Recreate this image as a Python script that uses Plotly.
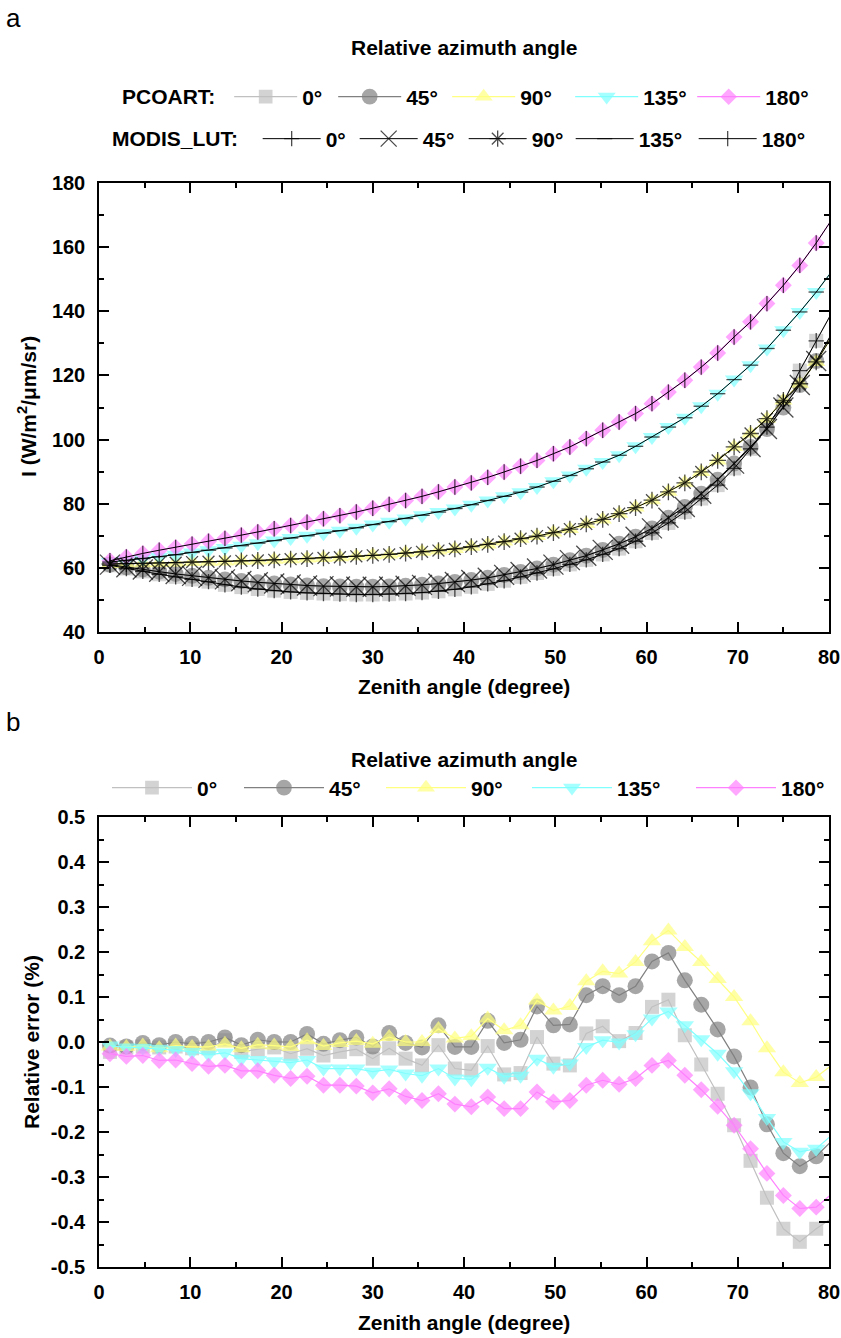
import plotly.graph_objects as go

# Zenith angles (degree); the last sample lies just past the 80° axis limit
zenith = [1.2, 3.0, 4.8, 6.6, 8.4, 10.2, 12.0, 13.8, 15.6, 17.4, 19.2, 21.0, 22.8, 24.6, 26.4,
          28.2, 30.0, 31.8, 33.6, 35.4, 37.2, 39.0, 40.8, 42.6, 44.4, 46.2, 48.0, 49.8, 51.6,
          53.4, 55.2, 57.0, 58.8, 60.6, 62.4, 64.2, 66.0, 67.8, 69.6, 71.4, 73.2, 75.0, 76.8,
          78.6, 80.4]

azimuth_labels = ["0°", "45°", "90°", "135°", "180°"]

# PCOART radiance I (W/m2/um/sr) per relative azimuth
pcoart_0 = [60.8, 59.8, 58.9, 58.0, 57.2, 56.4, 55.7, 54.7, 54.0, 53.4, 52.9, 52.5, 52.2, 52.0, 51.8,
            51.7, 51.7, 51.8, 52.0, 52.3, 52.7, 53.3, 54.1, 55.0, 56.0, 57.2, 58.4, 59.7, 61.1,
            62.5, 64.2, 66.0, 68.3, 70.9, 74.0, 77.4, 81.6, 85.8, 91.0, 97.1, 103.9, 111.7, 121.5,
            130.8, 140.0]
pcoart_45 = [61.0, 60.2, 59.5, 58.8, 58.1, 57.5, 56.9, 56.4, 55.9, 55.5, 55.1, 54.8, 54.5, 54.3, 54.2,
             54.1, 54.1, 54.2, 54.4, 54.7, 55.1, 55.6, 56.2, 56.9, 57.8, 58.7, 59.8, 61.0, 62.4,
             63.8, 65.6, 67.5, 69.7, 72.3, 75.6, 79.0, 83.1, 87.5, 92.5, 97.7, 103.3, 110.0, 117.0,
             124.5, 133.5]
pcoart_90 = [61.2, 61.3, 61.4, 61.5, 61.6, 61.8, 61.9, 62.0, 62.2, 62.3, 62.5, 62.7, 62.9, 63.1, 63.3,
             63.6, 63.9, 64.2, 64.6, 65.0, 65.4, 65.9, 66.6, 67.3, 68.2, 69.1, 69.9, 71.0, 72.1,
             73.7, 75.1, 76.9, 78.8, 81.1, 83.7, 86.5, 89.9, 93.5, 97.7, 101.9, 106.5, 112.2, 117.4,
             124.2, 132.5]
pcoart_135 = [61.8, 62.3, 62.9, 63.5, 64.1, 64.8, 65.5, 66.2, 66.9, 67.7, 68.5, 69.3, 70.0, 70.8, 71.6,
              72.5, 73.5, 74.4, 75.4, 76.4, 77.4, 78.5, 79.7, 81.0, 82.3, 83.6, 85.2, 87.0, 88.8,
              90.9, 93.0, 95.1, 97.9, 100.8, 103.9, 106.8, 110.4, 114.3, 118.7, 123.2, 128.4, 134.1,
              139.8, 146.0, 152.8]
pcoart_180 = [62.2, 63.4, 64.5, 65.5, 66.4, 67.4, 68.3, 69.2, 70.2, 71.2, 72.2, 73.2, 74.2, 75.3, 76.3,
              77.4, 78.6, 79.8, 81.0, 82.3, 83.7, 85.2, 86.5, 88.2, 89.9, 91.7, 93.5, 95.6, 97.7,
              100.3, 102.9, 105.5, 108.1, 111.2, 114.8, 118.5, 122.6, 127.0, 132.0, 136.7, 142.4,
              148.1, 154.3, 161.3, 169.0]

# MODIS look-up-table radiance I (W/m2/um/sr) per relative azimuth
modis_0 = [60.8, 59.8, 58.9, 58.0, 57.2, 56.4, 55.7, 54.7, 54.0, 53.4, 52.9, 52.5, 52.2, 52.0, 51.8,
           51.7, 51.7, 51.8, 52.0, 52.3, 52.7, 53.3, 54.1, 55.0, 56.0, 57.2, 58.4, 59.7, 61.1,
           62.5, 64.2, 66.0, 68.3, 70.9, 74.0, 77.4, 81.6, 85.8, 91.0, 97.1, 103.9, 111.7, 121.5,
           130.8, 140.0]
modis_45 = [61.0, 60.2, 59.5, 58.8, 58.1, 57.5, 56.9, 56.4, 55.9, 55.5, 55.1, 54.8, 54.5, 54.3, 54.2,
            54.1, 54.1, 54.2, 54.4, 54.7, 55.1, 55.6, 56.2, 56.9, 57.8, 58.7, 59.8, 61.0, 62.4,
            63.8, 65.6, 67.5, 69.7, 72.3, 75.6, 79.0, 83.1, 87.5, 92.5, 97.7, 103.3, 110.0, 117.0,
            124.5, 133.5]
modis_90 = [61.2, 61.3, 61.4, 61.5, 61.6, 61.8, 61.9, 62.0, 62.2, 62.3, 62.5, 62.7, 62.9, 63.1, 63.3,
            63.6, 63.9, 64.2, 64.6, 65.0, 65.4, 65.9, 66.6, 67.3, 68.2, 69.1, 69.9, 71.0, 72.1,
            73.7, 75.1, 76.9, 78.8, 81.1, 83.7, 86.5, 89.9, 93.5, 97.7, 101.9, 106.5, 112.2, 117.4,
            124.2, 132.5]
modis_135 = [61.8, 62.3, 62.9, 63.5, 64.1, 64.8, 65.5, 66.2, 66.9, 67.7, 68.5, 69.3, 70.0, 70.8, 71.6,
             72.5, 73.5, 74.4, 75.4, 76.4, 77.4, 78.5, 79.7, 81.0, 82.3, 83.6, 85.2, 87.0, 88.8,
             90.9, 93.0, 95.1, 97.9, 100.8, 103.9, 106.8, 110.4, 114.3, 118.7, 123.2, 128.4, 134.1,
             139.8, 146.0, 152.8]
modis_180 = [62.2, 63.4, 64.5, 65.5, 66.4, 67.4, 68.3, 69.2, 70.2, 71.2, 72.2, 73.2, 74.2, 75.3, 76.3,
             77.4, 78.6, 79.8, 81.0, 82.3, 83.7, 85.2, 86.5, 88.2, 89.9, 91.7, 93.5, 95.6, 97.7,
             100.3, 102.9, 105.5, 108.1, 111.2, 114.8, 118.5, 122.6, 127.0, 132.0, 136.7, 142.4,
             148.1, 154.3, 161.3, 169.0]

# Relative error (%) of PCOART against MODIS_LUT
err_0 = [-0.022, -0.012, -0.010, -0.012, -0.010, -0.014, -0.014, 0.004, -0.022, -0.016, -0.012,
         -0.026, -0.015, -0.030, -0.022, -0.016, -0.037, -0.014, -0.037, -0.052, -0.007, -0.059,
         -0.063, -0.009, -0.072, -0.069, 0.011, -0.048, -0.052, 0.019, 0.035, 0.002, 0.020, 0.078,
         0.094, 0.015, -0.050, -0.115, -0.185, -0.264, -0.346, -0.415, -0.444, -0.415, -0.390]
err_45 = [-0.008, -0.010, -0.002, -0.007, 0.000, -0.004, 0.000, 0.010, -0.007, 0.005, 0.000,
          0.000, 0.018, -0.004, 0.004, 0.010, -0.010, 0.020, -0.002, -0.012, 0.037, -0.011,
          -0.011, 0.047, -0.002, 0.005, 0.079, 0.037, 0.039, 0.104, 0.124, 0.104, 0.124, 0.179,
          0.198, 0.137, 0.083, 0.028, -0.032, -0.101, -0.183, -0.247, -0.276, -0.254, -0.218]
err_90 = [-0.010, -0.011, -0.008, -0.014, -0.008, -0.011, -0.011, -0.004, -0.014, -0.006, -0.008,
          -0.011, 0.004, -0.009, -0.002, 0.002, -0.004, 0.011, 0.000, 0.000, 0.029, 0.008,
          0.013, 0.052, 0.026, 0.037, 0.092, 0.070, 0.080, 0.135, 0.157, 0.152, 0.178, 0.224,
          0.248, 0.211, 0.178, 0.140, 0.100, 0.046, -0.014, -0.067, -0.091, -0.078, -0.050]
err_135 = [-0.008, -0.012, -0.013, -0.015, -0.018, -0.022, -0.028, -0.024, -0.037, -0.040, -0.043,
           -0.046, -0.040, -0.059, -0.059, -0.059, -0.066, -0.061, -0.070, -0.075, -0.059, -0.081,
           -0.083, -0.057, -0.077, -0.075, -0.037, -0.055, -0.048, -0.011, 0.004, -0.001, 0.017,
           0.052, 0.068, 0.037, 0.006, -0.026, -0.065, -0.114, -0.169, -0.222, -0.244, -0.237,
           -0.205]
err_180 = [-0.026, -0.032, -0.030, -0.041, -0.040, -0.048, -0.054, -0.052, -0.064, -0.064, -0.074,
           -0.081, -0.076, -0.096, -0.096, -0.098, -0.113, -0.104, -0.121, -0.130, -0.115, -0.138,
           -0.144, -0.122, -0.148, -0.148, -0.111, -0.133, -0.130, -0.096, -0.085, -0.094, -0.081,
           -0.052, -0.041, -0.074, -0.106, -0.143, -0.185, -0.237, -0.292, -0.341, -0.370, -0.367,
           -0.336]

# Axis tick labels
a_y_ticks = [40, 60, 80, 100, 120, 140, 160, 180]
b_y_ticks = [-0.5, -0.4, -0.3, -0.2, -0.1, 0.0, 0.1, 0.2, 0.3, 0.4, 0.5]
b_y_text = ["-0.5", "-0.4", "-0.3", "-0.2", "-0.1", "0.0", "0.1", "0.2", "0.3", "0.4", "0.5"]
x_ticks = [0, 10, 20, 30, 40, 50, 60, 70, 80]

# ---- styling ----
FONT = "Liberation Sans, Arial, Helvetica, sans-serif"
W, H = 841, 1338

pc_colors = ["#c0c0c0", "#808080", "#ffff80", "#80ffff", "#ff80ff"]
pc_symbols = ["square", "circle", "triangle-up", "triangle-down", "diamond"]
pc_sizes = [14, 16, 16, 16, 13]
md_symbols = ["cross-thin-open", "x-thin-open", "asterisk-open", "line-ew-open", "line-ns-open"]
md_sizes = [11, 20, 14, 11, 11]

# widths (px) reserved for each legend entry's label, per legend row
pc_entry_w = [26, 36, 45, 44, 46]
md_entry_w = [24, 36, 34, 50, 46]
err_entry_w = [37, 47, 51, 69, 46]


def hide_last(size):
    # the final sample sits beyond the axis limit: keep its line, drop its marker
    return [size] * (len(zenith) - 1) + [0]


pcoart = [pcoart_0, pcoart_45, pcoart_90, pcoart_135, pcoart_180]
modis = [modis_0, modis_45, modis_90, modis_135, modis_180]
errors = [err_0, err_45, err_90, err_135, err_180]

fig = go.Figure()

# panel a: PCOART radiance
for lab, vals, col, sym, sz, lw in zip(azimuth_labels, pcoart, pc_colors, pc_symbols, pc_sizes,
                                       pc_entry_w):
    fig.add_trace(go.Scatter(
        x=zenith, y=vals, name=lab, mode="lines+markers", legend="legend", legendwidth=lw,
        line=dict(color=col, width=1.2),
        marker=dict(symbol=sym, size=hide_last(sz), color=col, line=dict(width=0)),
        xaxis="x", yaxis="y"))

# panel a: MODIS_LUT radiance
for lab, vals, sym, sz, lw in zip(azimuth_labels, modis, md_symbols, md_sizes, md_entry_w):
    fig.add_trace(go.Scatter(
        x=zenith, y=vals, name=lab, mode="lines+markers", legend="legend2", legendwidth=lw,
        line=dict(color="black", width=1),
        marker=dict(symbol=sym, size=hide_last(sz), color="black",
                    line=dict(color="black", width=1.3)),
        xaxis="x", yaxis="y"))

# panel b: relative error
for lab, vals, col, sym, sz, lw in zip(azimuth_labels, errors, pc_colors, pc_symbols, pc_sizes,
                                       err_entry_w):
    fig.add_trace(go.Scatter(
        x=zenith, y=vals, name=lab, mode="lines+markers", legend="legend3", legendwidth=lw,
        line=dict(color=col, width=1.2),
        marker=dict(symbol=sym, size=hide_last(sz), color=col, line=dict(width=0)),
        xaxis="x2", yaxis="y2"))

tick_font = dict(family=FONT, size=20, color="black", weight="bold")
axis_common = dict(
    showline=True, linecolor="black", linewidth=1.5, mirror="allticks",
    ticks="inside", ticklen=10, tickwidth=1.5, tickcolor="black",
    showgrid=False, zeroline=False, tickfont=tick_font,
)
x_dom = [99 / W, 829 / W]
a_dom = [1 - 632 / H, 1 - 183 / H]
b_dom = [1 - 1267 / H, 1 - 817 / H]


def py(px):
    return 1 - px / H


legend_font = dict(family=FONT, size=21, color="black", weight="bold")
NB = "\u00a0"

fig.update_layout(
    width=W, height=H,
    margin=dict(l=0, r=0, t=0, b=0, autoexpand=False),
    paper_bgcolor="white", plot_bgcolor="white",
    xaxis=dict(axis_common, domain=x_dom, anchor="y", range=[0, 80],
               tickvals=x_ticks, ticklabelstandoff=6,
               minor=dict(ticks="inside", ticklen=5, tickwidth=1.5, tickcolor="black",
                          tickmode="linear", tick0=0, dtick=5, showgrid=False)),
    yaxis=dict(axis_common, domain=a_dom, anchor="x", range=[40, 180],
               tickvals=a_y_ticks, ticklabelstandoff=8,
               minor=dict(ticks="inside", ticklen=5, tickwidth=1.5, tickcolor="black",
                          tickmode="linear", tick0=0, dtick=10, showgrid=False)),
    xaxis2=dict(axis_common, domain=x_dom, anchor="y2", range=[0, 80],
                tickvals=x_ticks, ticklabelstandoff=6,
                minor=dict(ticks="inside", ticklen=5, tickwidth=1.5, tickcolor="black",
                           tickmode="linear", tick0=0, dtick=5, showgrid=False)),
    yaxis2=dict(axis_common, domain=b_dom, anchor="x2", range=[-0.5, 0.5],
                tickvals=b_y_ticks, ticktext=b_y_text, ticklabelstandoff=8,
                minor=dict(ticks="inside", ticklen=5, tickwidth=1.5, tickcolor="black",
                           tickmode="linear", tick0=0, dtick=0.05, showgrid=False)),
    legend=dict(orientation="h", x=120 / W, xanchor="left", y=py(97), yanchor="middle",
                title=dict(text="PCOART:" + NB, side="left", font=legend_font),
                font=legend_font, itemwidth=63, bgcolor="rgba(0,0,0,0)"),
    legend2=dict(orientation="h", x=110 / W, xanchor="left", y=py(139), yanchor="middle",
                 title=dict(text="MODIS_LUT:" + NB + NB, side="left", font=legend_font),
                 font=legend_font, itemwidth=58, bgcolor="rgba(0,0,0,0)"),
    legend3=dict(orientation="h", x=107 / W, xanchor="left", y=py(788), yanchor="middle",
                 font=legend_font, itemwidth=80, bgcolor="rgba(0,0,0,0)"),
)

title_font = dict(family=FONT, size=21, color="black", weight="bold")
annotations = [
    dict(text="a", x=13 / W, y=py(18), font=dict(family=FONT, size=26, color="black")),
    dict(text="b", x=13 / W, y=py(722), font=dict(family=FONT, size=26, color="black")),
    dict(text="Relative azimuth angle", x=464 / W, y=py(48), font=title_font),
    dict(text="Relative azimuth angle", x=464 / W, y=py(759), font=title_font),
    dict(text="Zenith angle (degree)", x=464 / W, y=py(686), font=title_font),
    dict(text="Zenith angle (degree)", x=464 / W, y=py(1322), font=title_font),
    dict(text="I (W/m<sup>2</sup>/μm/sr)", x=27 / W, y=py(407), textangle=-90, font=title_font),
    dict(text="Relative error (%)", x=31 / W, y=py(1042), textangle=-90, font=title_font),
]
for a in annotations:
    a.update(xref="paper", yref="paper", showarrow=False, xanchor="center", yanchor="middle")
fig.update_layout(annotations=annotations)

fig.write_html("out.html")
